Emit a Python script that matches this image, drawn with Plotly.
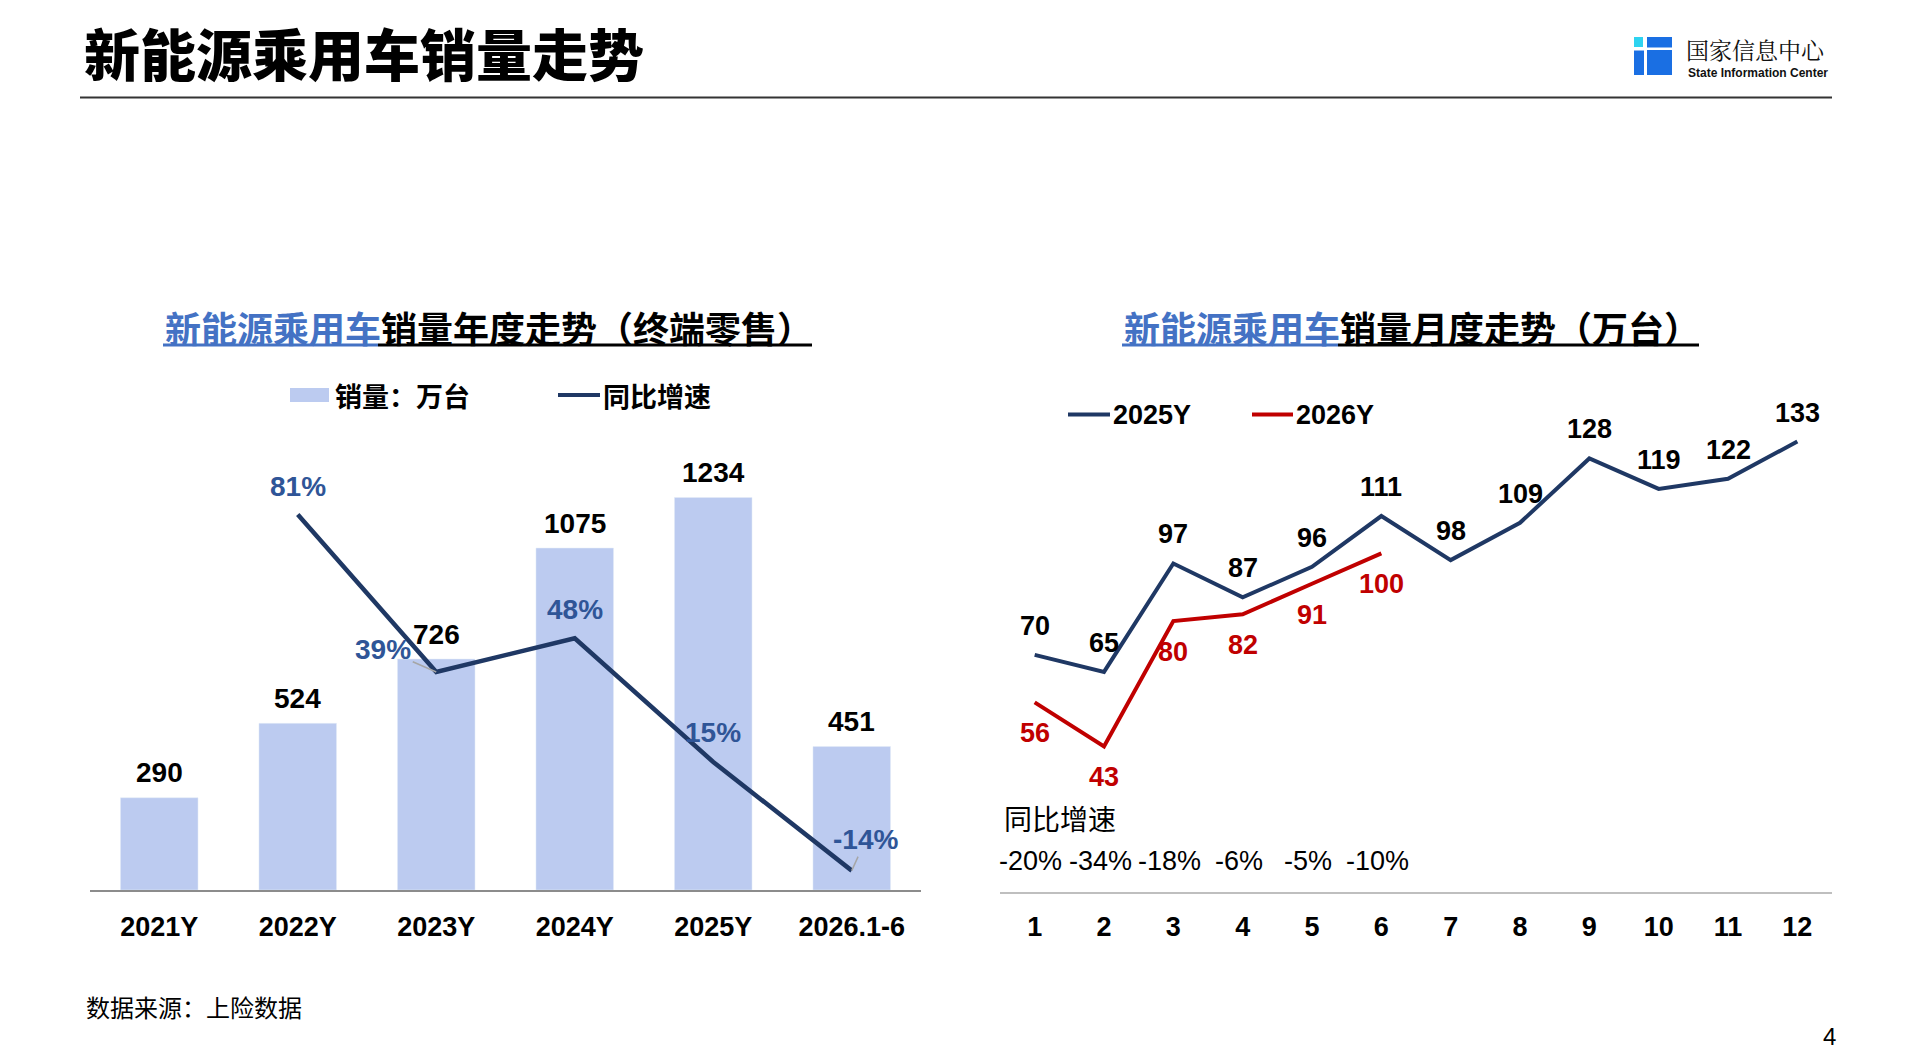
import plotly.graph_objects as go

W, H = 1912, 1060

# ---------------- data ----------------
years = ['2021Y', '2022Y', '2023Y', '2024Y', '2025Y', '2026.1-6']
sales = [290, 524, 726, 1075, 1234, 451]
yoy = [None, 81, 39, 48, 15, -14]

months = [1, 2, 3, 4, 5, 6, 7, 8, 9, 10, 11, 12]
m2025 = [70, 65, 97, 87, 96, 111, 98, 109, 128, 119, 122, 133]
m2026 = [56, 43, 80, 82, 91, 100]
yoy_month = ['-20%', '-34%', '-18%', '-6%', '-5%', '-10%']

# ---------------- style ----------------
NUM = 'Liberation Sans, Arial, Noto Sans CJK SC'
CJK = 'Noto Sans CJK SC, Liberation Sans'
BAR_C = '#BCCBF0'
NAVY = '#1F3864'
PCT_C = '#2F5597'
RED = '#C00000'
TBLUE = '#4472C4'
# label offsets (pixels) for yoy labels: (xshift, yshift, leader line)
pct_off = [None, (0, 28, False), (-53, 23, True), (0, 29, False), (0, 29, False), (14, 31, True)]


def px(x):
    return x / W


def py(y):
    return 1 - y / H


fig = go.Figure()

fig.add_trace(go.Bar(x=years, y=sales, marker_color=BAR_C, width=0.56,
                     xaxis='x', yaxis='y', showlegend=False, hoverinfo='skip'))
fig.add_trace(go.Scatter(x=years, y=yoy, mode='lines', line=dict(color=NAVY, width=4.5),
                         xaxis='x', yaxis='y2', showlegend=False, hoverinfo='skip'))
fig.add_trace(go.Scatter(x=months, y=m2025, mode='lines', line=dict(color=NAVY, width=4),
                         xaxis='x2', yaxis='y3', showlegend=False, hoverinfo='skip'))
fig.add_trace(go.Scatter(x=months[:len(m2026)], y=m2026, mode='lines', line=dict(color=RED, width=4),
                         xaxis='x2', yaxis='y3', showlegend=False, hoverinfo='skip'))

ann = []
shapes = []

# bar value labels
for c, v in zip(years, sales):
    ann.append(dict(x=c, y=v, xref='x', yref='y', text=f'<b>{v}</b>', showarrow=False,
                    yshift=25, font=dict(family=NUM, size=28, color='black')))
# yoy labels
for c, v, o in zip(years, yoy, pct_off):
    if v is None:
        continue
    f = dict(family=NUM, size=28, color=PCT_C)
    if o[2]:
        ann.append(dict(x=c, y=v, xref='x', yref='y2', text=f'<b>{v}%</b>', showarrow=True,
                        arrowhead=0, arrowwidth=1.5, arrowcolor='#A6A6A6', standoff=0,
                        ax=o[0], ay=-o[1], font=f))
    else:
        ann.append(dict(x=c, y=v, xref='x', yref='y2', text=f'<b>{v}%</b>', showarrow=False,
                        xshift=o[0], yshift=o[1], font=f))
# monthly labels
for m, v in zip(months, m2025):
    ann.append(dict(x=m, y=v, xref='x2', yref='y3', text=f'<b>{v}</b>', showarrow=False,
                    yshift=29, font=dict(family=NUM, size=27, color='black')))
for m, v in zip(months, m2026):
    ann.append(dict(x=m, y=v, xref='x2', yref='y3', text=f'<b>{v}</b>', showarrow=False,
                    yshift=-31, font=dict(family=NUM, size=27, color=RED)))
for m, t in zip(months, yoy_month):
    ann.append(dict(x=m, y=py(861), xref='x2', yref='paper', text=t, showarrow=False,
                    xanchor='center', yanchor='middle',
                    xshift=-4, font=dict(family=NUM, size=27, color='black')))
ann.append(dict(x=px(1002), y=py(818), xref='paper', yref='paper', text='同比增速', showarrow=False,
                xanchor='left', yanchor='middle', font=dict(family=CJK, size=28, color='black')))

# page title
ann.append(dict(x=px(82), y=py(52), xref='paper', yref='paper', text='新能源乘用车销量走势',
                showarrow=False, xanchor='left', yanchor='middle',
                font=dict(family=CJK, size=56, color='black', weight=900)))
shapes.append(dict(type='line', xref='paper', yref='paper', x0=px(80), x1=px(1832), y0=py(97.5), y1=py(97.5),
                   line=dict(color='#333333', width=2)))

# logo
LB = '#1A6FE3'
shapes += [
    dict(type='rect', xref='paper', yref='paper', x0=px(1634), x1=px(1643), y0=py(47), y1=py(37),
         fillcolor='#2ED3F0', line=dict(width=0)),
    dict(type='rect', xref='paper', yref='paper', x0=px(1647), x1=px(1672), y0=py(47.5), y1=py(37),
         fillcolor=LB, line=dict(width=0)),
    dict(type='rect', xref='paper', yref='paper', x0=px(1634), x1=px(1644), y0=py(75), y1=py(50.5),
         fillcolor=LB, line=dict(width=0)),
    dict(type='rect', xref='paper', yref='paper', x0=px(1647), x1=px(1672), y0=py(75), y1=py(50),
         fillcolor=LB, line=dict(width=0)),
]
ann.append(dict(x=px(1684), y=py(49.5), xref='paper', yref='paper', text='国家信息中心', showarrow=False,
                xanchor='left', yanchor='middle',
                font=dict(family='Noto Serif CJK SC, ' + CJK, size=23, color='#111111')))
ann.append(dict(x=px(1686), y=py(73.5), xref='paper', yref='paper', text='<b>State Information Center</b>',
                showarrow=False, xanchor='left', yanchor='middle',
                font=dict(family='Liberation Sans Narrow, ' + NUM, size=12, color='#111111')))

# sub titles
ann.append(dict(x=px(163), y=py(327), xref='paper', yref='paper',
                text=f'<b><span style="color:{TBLUE}">新能源乘用车</span>销量年度走势（终端零售）</b>',
                showarrow=False, xanchor='left', yanchor='middle', font=dict(family=CJK, size=36, color='black')))
shapes.append(dict(type='line', xref='paper', yref='paper', x0=px(163), x1=px(378), y0=py(345), y1=py(345),
                   line=dict(color=TBLUE, width=3)))
shapes.append(dict(type='line', xref='paper', yref='paper', x0=px(378), x1=px(812), y0=py(345), y1=py(345),
                   line=dict(color='black', width=3)))
ann.append(dict(x=px(1122), y=py(327), xref='paper', yref='paper',
                text=f'<b><span style="color:{TBLUE}">新能源乘用车</span>销量月度走势（万台）</b>',
                showarrow=False, xanchor='left', yanchor='middle', font=dict(family=CJK, size=36, color='black')))
shapes.append(dict(type='line', xref='paper', yref='paper', x0=px(1122), x1=px(1338), y0=py(345), y1=py(345),
                   line=dict(color=TBLUE, width=3)))
shapes.append(dict(type='line', xref='paper', yref='paper', x0=px(1338), x1=px(1699), y0=py(345), y1=py(345),
                   line=dict(color='black', width=3)))

# legends (drawn)
shapes.append(dict(type='rect', xref='paper', yref='paper', x0=px(290), x1=px(329), y0=py(402), y1=py(388),
                   fillcolor=BAR_C, line=dict(width=0)))
ann.append(dict(x=px(333), y=py(396), xref='paper', yref='paper', text='<b>销量：万台</b>', showarrow=False,
                xanchor='left', yanchor='middle', font=dict(family=CJK, size=27, color='black')))
shapes.append(dict(type='line', xref='paper', yref='paper', x0=px(558), x1=px(600), y0=py(395), y1=py(395),
                   line=dict(color=NAVY, width=4)))
ann.append(dict(x=px(601), y=py(396), xref='paper', yref='paper', text='<b>同比增速</b>', showarrow=False,
                xanchor='left', yanchor='middle', font=dict(family=CJK, size=27, color='black')))

shapes.append(dict(type='line', xref='paper', yref='paper', x0=px(1068), x1=px(1110), y0=py(414.5), y1=py(414.5),
                   line=dict(color=NAVY, width=4)))
ann.append(dict(x=px(1111), y=py(414.5), xref='paper', yref='paper', text='<b>2025Y</b>', showarrow=False,
                xanchor='left', yanchor='middle', font=dict(family=NUM, size=27, color='black')))
shapes.append(dict(type='line', xref='paper', yref='paper', x0=px(1252), x1=px(1293), y0=py(414.5), y1=py(414.5),
                   line=dict(color=RED, width=4)))
ann.append(dict(x=px(1294), y=py(414.5), xref='paper', yref='paper', text='<b>2026Y</b>', showarrow=False,
                xanchor='left', yanchor='middle', font=dict(family=NUM, size=27, color='black')))

# footer
ann.append(dict(x=px(84), y=py(1006), xref='paper', yref='paper', text='数据来源：上险数据', showarrow=False,
                xanchor='left', yanchor='middle', font=dict(family=CJK, size=24, color='black')))
ann.append(dict(x=px(1829), y=py(1036), xref='paper', yref='paper', text='4', showarrow=False,
                xanchor='center', yanchor='middle', font=dict(family=NUM, size=24, color='black')))

# axis geometry
L_BOT, L_TOP = 890, 440
bar_px_per_unit = 0.3181
pct_px_per_unit = 3.748
pct_bottom = 39 - (L_BOT - 672) / pct_px_per_unit
R_BOT, R_TOP = 892, 400
r_px_per_unit = 3.387

fig.update_layout(
    width=W, height=H, autosize=False,
    margin=dict(l=0, r=0, t=0, b=0, pad=0),
    paper_bgcolor='white', plot_bgcolor='white',
    showlegend=False,
    xaxis=dict(domain=[px(90), px(921)], anchor='y', type='category', range=[-0.5, 5.5],
               showline=True, linecolor='#8C8C8C', linewidth=2, showgrid=False, zeroline=False,
               ticks='', ticklabelstandoff=12,
               tickfont=dict(family=NUM, size=27, color='black', weight='bold')),
    yaxis=dict(domain=[py(L_BOT), py(L_TOP)], anchor='x',
               range=[0, (L_BOT - L_TOP) / bar_px_per_unit], visible=False),
    yaxis2=dict(overlaying='y', anchor='x', side='right',
                range=[pct_bottom, pct_bottom + (L_BOT - L_TOP) / pct_px_per_unit], visible=False),
    xaxis2=dict(domain=[px(1000), px(1832)], anchor='y3', range=[0.5, 12.5],
                tickvals=months, ticktext=[str(m) for m in months],
                showline=True, linecolor='#BFBFBF', linewidth=1.5, showgrid=False, zeroline=False,
                ticks='', ticklabelstandoff=10,
                tickfont=dict(family=NUM, size=27, color='black', weight='bold')),
    yaxis3=dict(domain=[py(R_BOT), py(R_TOP)], anchor='x2',
                range=[0, (R_BOT - R_TOP) / r_px_per_unit], visible=False),
    annotations=ann,
    shapes=shapes,
)

fig.write_html('out.html')
